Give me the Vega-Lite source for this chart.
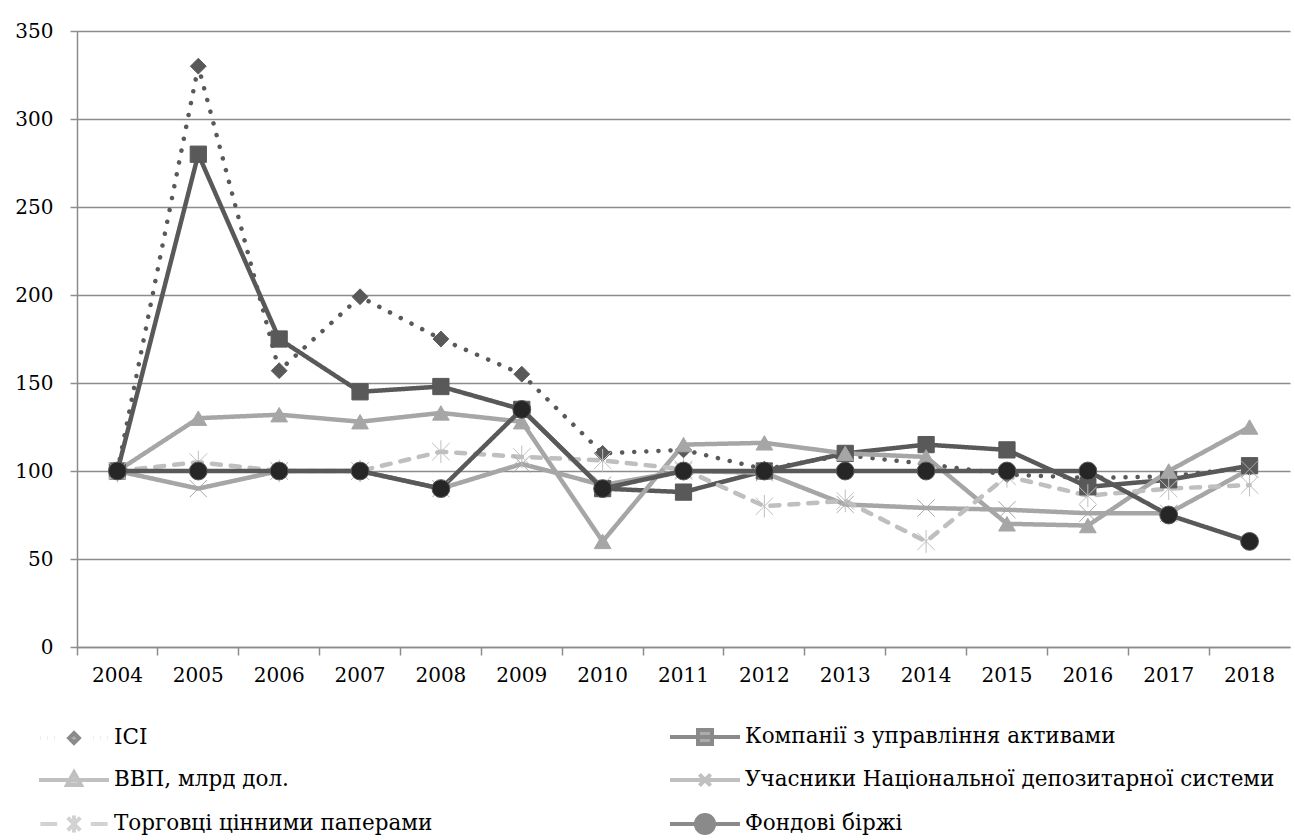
{
  "$schema": "https://vega.github.io/schema/vega-lite/v6.json",
  "width": 1213,
  "height": 616,
  "autosize": {"type": "none"},
  "padding": {"left": 77, "top": 31, "right": 5, "bottom": 193},
  "background": "white",
  "config": {"view": {"stroke": null}, "font": "DejaVu Serif"},
  "data": {
    "values": [
      {"year": "2004", "series": "ICI", "value": 100},
      {"year": "2005", "series": "ICI", "value": 330},
      {"year": "2006", "series": "ICI", "value": 157},
      {"year": "2007", "series": "ICI", "value": 199},
      {"year": "2008", "series": "ICI", "value": 175},
      {"year": "2009", "series": "ICI", "value": 155},
      {"year": "2010", "series": "ICI", "value": 110},
      {"year": "2011", "series": "ICI", "value": 112},
      {"year": "2012", "series": "ICI", "value": 101},
      {"year": "2013", "series": "ICI", "value": 109},
      {"year": "2014", "series": "ICI", "value": 104},
      {"year": "2015", "series": "ICI", "value": 98},
      {"year": "2016", "series": "ICI", "value": 96},
      {"year": "2017", "series": "ICI", "value": 97},
      {"year": "2018", "series": "ICI", "value": 102},
      {"year": "2004", "series": "Компанії з управління активами", "value": 100},
      {"year": "2005", "series": "Компанії з управління активами", "value": 280},
      {"year": "2006", "series": "Компанії з управління активами", "value": 175},
      {"year": "2007", "series": "Компанії з управління активами", "value": 145},
      {"year": "2008", "series": "Компанії з управління активами", "value": 148},
      {"year": "2009", "series": "Компанії з управління активами", "value": 135},
      {"year": "2010", "series": "Компанії з управління активами", "value": 90},
      {"year": "2011", "series": "Компанії з управління активами", "value": 88},
      {"year": "2012", "series": "Компанії з управління активами", "value": 100},
      {"year": "2013", "series": "Компанії з управління активами", "value": 110},
      {"year": "2014", "series": "Компанії з управління активами", "value": 115},
      {"year": "2015", "series": "Компанії з управління активами", "value": 112},
      {"year": "2016", "series": "Компанії з управління активами", "value": 91},
      {"year": "2017", "series": "Компанії з управління активами", "value": 95},
      {"year": "2018", "series": "Компанії з управління активами", "value": 103},
      {"year": "2004", "series": "ВВП, млрд дол.", "value": 100},
      {"year": "2005", "series": "ВВП, млрд дол.", "value": 130},
      {"year": "2006", "series": "ВВП, млрд дол.", "value": 132},
      {"year": "2007", "series": "ВВП, млрд дол.", "value": 128},
      {"year": "2008", "series": "ВВП, млрд дол.", "value": 133},
      {"year": "2009", "series": "ВВП, млрд дол.", "value": 128},
      {"year": "2010", "series": "ВВП, млрд дол.", "value": 60},
      {"year": "2011", "series": "ВВП, млрд дол.", "value": 115},
      {"year": "2012", "series": "ВВП, млрд дол.", "value": 116},
      {"year": "2013", "series": "ВВП, млрд дол.", "value": 110},
      {"year": "2014", "series": "ВВП, млрд дол.", "value": 108},
      {"year": "2015", "series": "ВВП, млрд дол.", "value": 70},
      {"year": "2016", "series": "ВВП, млрд дол.", "value": 69},
      {"year": "2017", "series": "ВВП, млрд дол.", "value": 100},
      {"year": "2018", "series": "ВВП, млрд дол.", "value": 125},
      {"year": "2004", "series": "Учасники Національної депозитарної системи", "value": 100},
      {"year": "2005", "series": "Учасники Національної депозитарної системи", "value": 90},
      {"year": "2006", "series": "Учасники Національної депозитарної системи", "value": 100},
      {"year": "2007", "series": "Учасники Національної депозитарної системи", "value": 100},
      {"year": "2008", "series": "Учасники Національної депозитарної системи", "value": 90},
      {"year": "2009", "series": "Учасники Національної депозитарної системи", "value": 104},
      {"year": "2010", "series": "Учасники Національної депозитарної системи", "value": 92},
      {"year": "2011", "series": "Учасники Національної депозитарної системи", "value": 100},
      {"year": "2012", "series": "Учасники Національної депозитарної системи", "value": 99},
      {"year": "2013", "series": "Учасники Національної депозитарної системи", "value": 81},
      {"year": "2014", "series": "Учасники Національної депозитарної системи", "value": 79},
      {"year": "2015", "series": "Учасники Національної депозитарної системи", "value": 78},
      {"year": "2016", "series": "Учасники Національної депозитарної системи", "value": 76},
      {"year": "2017", "series": "Учасники Національної депозитарної системи", "value": 76},
      {"year": "2018", "series": "Учасники Національної депозитарної системи", "value": 101},
      {"year": "2004", "series": "Торговці цінними паперами", "value": 100},
      {"year": "2005", "series": "Торговці цінними паперами", "value": 105},
      {"year": "2006", "series": "Торговці цінними паперами", "value": 100},
      {"year": "2007", "series": "Торговці цінними паперами", "value": 100},
      {"year": "2008", "series": "Торговці цінними паперами", "value": 111},
      {"year": "2009", "series": "Торговці цінними паперами", "value": 108},
      {"year": "2010", "series": "Торговці цінними паперами", "value": 106},
      {"year": "2011", "series": "Торговці цінними паперами", "value": 101},
      {"year": "2012", "series": "Торговці цінними паперами", "value": 80},
      {"year": "2013", "series": "Торговці цінними паперами", "value": 83},
      {"year": "2014", "series": "Торговці цінними паперами", "value": 60},
      {"year": "2015", "series": "Торговці цінними паперами", "value": 97},
      {"year": "2016", "series": "Торговці цінними паперами", "value": 86},
      {"year": "2017", "series": "Торговці цінними паперами", "value": 90},
      {"year": "2018", "series": "Торговці цінними паперами", "value": 92},
      {"year": "2004", "series": "Фондові біржі", "value": 100},
      {"year": "2005", "series": "Фондові біржі", "value": 100},
      {"year": "2006", "series": "Фондові біржі", "value": 100},
      {"year": "2007", "series": "Фондові біржі", "value": 100},
      {"year": "2008", "series": "Фондові біржі", "value": 90},
      {"year": "2009", "series": "Фондові біржі", "value": 135},
      {"year": "2010", "series": "Фондові біржі", "value": 90},
      {"year": "2011", "series": "Фондові біржі", "value": 100},
      {"year": "2012", "series": "Фондові біржі", "value": 100},
      {"year": "2013", "series": "Фондові біржі", "value": 100},
      {"year": "2014", "series": "Фондові біржі", "value": 100},
      {"year": "2015", "series": "Фондові біржі", "value": 100},
      {"year": "2016", "series": "Фондові біржі", "value": 100},
      {"year": "2017", "series": "Фондові біржі", "value": 75},
      {"year": "2018", "series": "Фондові біржі", "value": 60}
    ]
  },
  "encoding": {
    "x": {
      "field": "year", "type": "ordinal",
      "scale": {"type": "band", "paddingInner": 0, "paddingOuter": 0},
      "bandPosition": 0.5,
      "axis": {
        "title": null, "labelAngle": 0, "bandPosition": 0, "grid": false,
        "tickSize": 8, "tickColor": "#8c8c8c", "tickWidth": 1.5,
        "domainColor": "#8c8c8c", "domainWidth": 1.5,
        "labelFont": "DejaVu Serif", "labelFontSize": 20, "labelColor": "#000000", "labelPadding": 10
      }
    },
    "y": {
      "field": "value", "type": "quantitative",
      "scale": {"domain": [0, 350], "nice": false, "zero": true},
      "axis": {
        "title": null, "values": [0, 50, 100, 150, 200, 250, 300, 350],
        "grid": true, "gridColor": "#8c8c8c", "gridWidth": 1.5,
        "domainColor": "#8c8c8c", "domainWidth": 1.5,
        "tickSize": 7, "tickColor": "#8c8c8c", "tickWidth": 1.5,
        "labelFont": "DejaVu Serif", "labelFontSize": 20, "labelColor": "#000000", "labelPadding": 17
      }
    }
  },
  "layer": [
    {
      "mark": {"type": "line", "strokeWidth": 4.5, "strokeCap": "round", "strokeJoin": "round"},
      "encoding": {
        "color": {
          "field": "series", "type": "nominal", "legend": null,
          "scale": {
            "domain": ["ICI", "Компанії з управління активами", "ВВП, млрд дол.", "Учасники Національної депозитарної системи", "Торговці цінними паперами", "Фондові біржі"],
            "range": ["#595959", "#595959", "#a6a6a6", "#a6a6a6", "#bfbfbf", "#595959"]
          }
        },
        "strokeDash": {
          "field": "series", "type": "nominal", "legend": null,
          "scale": {
            "domain": ["ICI", "Компанії з управління активами", "ВВП, млрд дол.", "Учасники Національної депозитарної системи", "Торговці цінними паперами", "Фондові біржі"],
            "range": [[0.1, 12], [1, 0], [1, 0], [1, 0], [9, 10], [1, 0]]
          }
        }
      }
    },
    {
      "mark": {"type": "point", "opacity": 1},
      "encoding": {
        "shape": {
          "field": "series", "type": "nominal", "legend": null,
          "scale": {
            "domain": ["ICI", "Компанії з управління активами", "ВВП, млрд дол.", "Учасники Національної депозитарної системи", "Торговці цінними паперами", "Фондові біржі"],
            "range": ["diamond", "square", "triangle-up", "M-1,-1L1,1M-1,1L1,-1", "M-1,-1L1,1M-1,1L1,-1M0,-1.3L0,1.3", "circle"]
          }
        },
        "size": {
          "field": "series", "type": "nominal", "legend": null,
          "scale": {
            "domain": ["ICI", "Компанії з управління активами", "ВВП, млрд дол.", "Учасники Національної депозитарної системи", "Торговці цінними паперами", "Фондові біржі"],
            "range": [250, 320, 380, 300, 300, 350]
          }
        },
        "fill": {
          "field": "series", "type": "nominal", "legend": null,
          "scale": {
            "domain": ["ICI", "Компанії з управління активами", "ВВП, млрд дол.", "Учасники Національної депозитарної системи", "Торговці цінними паперами", "Фондові біржі"],
            "range": ["#595959", "#595959", "#a6a6a6", "transparent", "transparent", "#262626"]
          }
        },
        "stroke": {
          "field": "series", "type": "nominal", "legend": null,
          "scale": {
            "domain": ["ICI", "Компанії з управління активами", "ВВП, млрд дол.", "Учасники Національної депозитарної системи", "Торговці цінними паперами", "Фондові біржі"],
            "range": ["#595959", "#595959", "#a6a6a6", "#a6a6a6", "#bfbfbf", "#595959"]
          }
        },
        "strokeWidth": {
          "field": "series", "type": "nominal", "legend": null,
          "scale": {
            "domain": ["ICI", "Компанії з управління активами", "ВВП, млрд дол.", "Учасники Національної депозитарної системи", "Торговці цінними паперами", "Фондові біржі"],
            "range": [1, 1, 1, 2, 1.5, 2]
          }
        }
      }
    },
    {
      "transform": [{"filter": "false"}],
      "mark": {"type": "point", "filled": true},
      "encoding": {
        "shape": {
          "field": "series", "type": "nominal",
          "scale": {
            "domain": ["ICI", "ВВП, млрд дол.", "Торговці цінними паперами", "Компанії з управління активами", "Учасники Національної депозитарної системи", "Фондові біржі"],
            "range": [
              "M-2.4,0L-2.39,0M-1.9,0L-1.89,0M-1.4,0L-1.39,0M-0.35,0L0,-0.35L0.35,0L0,0.35ZM1.4,0L1.41,0M1.9,0L1.91,0M2.4,0L2.41,0",
              "M-2.5,0L2.5,0M0,-0.55L0.5,0.35L-0.5,0.35Z",
              "M-2.4,0L-1.2,0M1.2,0L2.4,0M-0.45,-0.45L0.45,0.45M-0.45,0.45L0.45,-0.45M0,-0.6L0,0.6",
              "M-2.5,0L2.5,0M-0.5,-0.5L0.5,-0.5L0.5,0.5L-0.5,0.5Z",
              "M-2.5,0L2.5,0M-0.4,-0.4L0.4,0.4M-0.4,0.4L0.4,-0.4",
              "M-2.5,0L-0.65,0M0.65,0L2.5,0M0.65,0A0.65,0.65,0,1,1,-0.65,0A0.65,0.65,0,1,1,0.65,0Z"
            ]
          },
          "legend": {
            "orient": "none", "legendX": -19, "legendY": 690, "columns": 2, "title": null,
            "symbolSize": 784, "symbolStrokeWidth": 4, "labelFont": "DejaVu Serif", "labelFontSize": 21.5,
            "labelColor": "#000000", "labelOffset": 24, "rowPadding": 12, "columnPadding": 229, "padding": 0,
            "labelLimit": 700,
            "encode": {"symbols": {"update": {
              "strokeCap": {"value": "round"},
              "fillOpacity": {"value": 1},
              "fill": {"signal": "datum.value === 'Фондові біржі' ? '#141414' : (datum.value === 'ICI' || datum.value === 'Компанії з управління активами') ? '#595959' : datum.value === 'ВВП, млрд дол.' ? '#a6a6a6' : 'transparent'"}
            }}}
          }
        },
        "fill": {
          "field": "series", "type": "nominal",
          "scale": {
            "domain": ["ICI", "ВВП, млрд дол.", "Торговці цінними паперами", "Компанії з управління активами", "Учасники Національної депозитарної системи", "Фондові біржі"],
            "range": ["#595959", "#a6a6a6", "transparent", "#595959", "transparent", "#141414"]
          },
          "legend": {
            "orient": "none", "legendX": -19, "legendY": 690, "columns": 2, "title": null,
            "symbolSize": 784, "symbolStrokeWidth": 4, "labelFont": "DejaVu Serif", "labelFontSize": 21.5,
            "labelColor": "#000000", "labelOffset": 24, "rowPadding": 12, "columnPadding": 229, "padding": 0,
            "labelLimit": 700,
            "encode": {"symbols": {"update": {
              "strokeCap": {"value": "round"},
              "fillOpacity": {"value": 1},
              "fill": {"signal": "datum.value === 'Фондові біржі' ? '#141414' : (datum.value === 'ICI' || datum.value === 'Компанії з управління активами') ? '#595959' : datum.value === 'ВВП, млрд дол.' ? '#a6a6a6' : 'transparent'"}
            }}}
          }
        },
        "stroke": {
          "field": "series", "type": "nominal",
          "scale": {
            "domain": ["ICI", "ВВП, млрд дол.", "Торговці цінними паперами", "Компанії з управління активами", "Учасники Національної депозитарної системи", "Фондові біржі"],
            "range": ["#595959", "#a6a6a6", "#bfbfbf", "#595959", "#a6a6a6", "#595959"]
          },
          "legend": {
            "orient": "none", "legendX": -19, "legendY": 690, "columns": 2, "title": null,
            "symbolSize": 784, "symbolStrokeWidth": 4, "labelFont": "DejaVu Serif", "labelFontSize": 21.5,
            "labelColor": "#000000", "labelOffset": 24, "rowPadding": 12, "columnPadding": 229, "padding": 0,
            "labelLimit": 700,
            "encode": {"symbols": {"update": {
              "strokeCap": {"value": "round"},
              "fillOpacity": {"value": 1},
              "fill": {"signal": "datum.value === 'Фондові біржі' ? '#141414' : (datum.value === 'ICI' || datum.value === 'Компанії з управління активами') ? '#595959' : datum.value === 'ВВП, млрд дол.' ? '#a6a6a6' : 'transparent'"}
            }}}
          }
        }
      }
    }
  ],
  "resolve": {"scale": {"shape": "independent", "fill": "independent", "stroke": "independent"}}
}
